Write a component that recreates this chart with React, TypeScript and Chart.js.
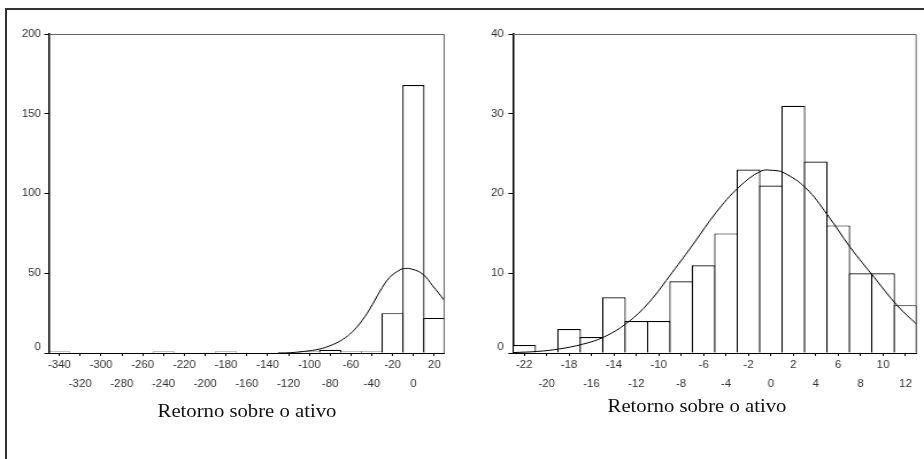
import React, { useEffect, useRef } from 'react';
import { Chart, registerables } from 'chart.js';

Chart.register(...registerables);

// ---------- data ----------
const LEFT_BINS = [-340, -320, -300, -280, -260, -240, -220, -200, -180, -160, -140, -120, -100, -80, -60, -40, -20, 0, 20];
const LEFT_COUNTS = [1, 0, 0, 0, 0, 1, 0, 0, 1, 0, 0, 0, 1, 2, 1, 1, 25, 168, 22];
const LEFT_Y_TICKS = [0, 50, 100, 150, 200];
const LEFT_CURVE_X = [-130, -118, -100, -90, -80, -70, -61, -52, -42, -32, -23, -13, -8, -1, 9, 18.5, 30];
const LEFT_CURVE_Y = [0, 0.2, 1.4, 2.5, 4.6, 7.7, 11.9, 18.1, 27.5, 38.9, 47.3, 52.1, 53, 52.5, 49.4, 42.1, 32.7];

const RIGHT_BINS = [-22, -20, -18, -16, -14, -12, -10, -8, -6, -4, -2, 0, 2, 4, 6, 8, 10, 12];
const RIGHT_COUNTS = [1, 0, 3, 2, 7, 4, 4, 9, 11, 15, 23, 21, 31, 24, 16, 10, 10, 6];
const RIGHT_Y_TICKS = [0, 10, 20, 30, 40];
const RIGHT_CURVE_X = [-23, -20.8, -18.9, -16.8, -14.9, -12.8, -10.9, -8.8, -6.85, -4.9, -2.85, -0.9, 0.15, 1.15, 3.1, 5, 7.1, 9.2, 11.3, 13];
const RIGHT_CURVE_Y = [0.05, 0.2, 0.5, 1.1, 2.0, 3.8, 6.3, 10.1, 13.8, 17.6, 20.8, 22.8, 22.9, 22.6, 20.7, 17.4, 13.2, 9.5, 5.9, 3.6];

const X_TITLE = 'Retorno sobre o ativo';

const SANS = "'Liberation Sans', Arial, sans-serif";
const SERIF = "'Liberation Serif', 'Times New Roman', serif";

// the original figure is slightly stretched horizontally
const K = 1.15;
const PANEL_W = 462;
const CANVAS_W = Math.round(PANEL_W / K);
const H = 459;

const plotFrame = {
  id: 'plotFrame',
  afterDraw(chart: any) {
    const { ctx, chartArea } = chart;
    const { left, right, top, bottom } = chartArea;
    ctx.save();
    ctx.strokeStyle = '#666';
    ctx.lineWidth = 1;
    const t = Math.round(top) + 0.5;
    ctx.beginPath();
    ctx.moveTo(left, t);
    ctx.lineTo(right - 0.5, t);
    ctx.lineTo(right - 0.5, bottom);
    ctx.stroke();
    ctx.restore();
  },
};

type Spec = {
  bins: number[];
  counts: number[];
  yTicks: number[];
  curveX: number[];
  curveY: number[];
  xMin: number;
  xMax: number;
  plotLeft: number;
  plotRight: number;
  yTickLen: number;
  yPad: number;
};

function buildConfig(s: Spec): any {
  const left = s.plotLeft / K;
  const right = s.plotRight / K;
  const binPx = ((right - left) * (s.bins[1] - s.bins[0])) / (s.xMax - s.xMin);
  const barPct = (binPx + 1.2) / binPx;
  return {
    type: 'bar',
    data: {
      datasets: [
        {
          type: 'line',
          data: s.curveX.map((x, i) => ({ x, y: s.curveY[i] })),
          borderColor: '#000',
          borderWidth: 1,
          pointRadius: 0,
          tension: 0.4,
          fill: false,
          order: 1,
        },
        {
          type: 'bar',
          data: s.bins.map((x, i) => ({ x, y: s.counts[i] })),
          backgroundColor: '#fff',
          borderColor: '#000',
          borderWidth: 1.2,
          borderSkipped: 'start',
          barPercentage: barPct,
          categoryPercentage: 1,
          order: 2,
        },
      ],
    },
    options: {
      responsive: false,
      animation: false,
      devicePixelRatio: 1,
      layout: { padding: { left: 0, top: 34, right: CANVAS_W - right, bottom: 0 } },
      plugins: { legend: { display: false }, tooltip: { enabled: false }, title: { display: false } },
      scales: {
        x: {
          type: 'linear',
          min: s.xMin,
          max: s.xMax,
          offset: false,
          afterBuildTicks: (sc: any) => {
            sc.ticks = s.bins.map((v) => ({ value: v }));
          },
          afterFit: (sc: any) => {
            sc.height = 106;
          },
          ticks: {
            autoSkip: false,
            maxRotation: 0,
            minRotation: 0,
            padding: 0,
            color: '#333',
            font: { family: SANS, size: 10, lineHeight: 1.9 },
            callback: (v: number, i: number) => (i % 2 === 0 ? String(v) : ['', String(v)]),
          },
          grid: { drawOnChartArea: false, drawTicks: true, tickLength: 3, color: '#000', offset: false },
          border: { display: true, color: '#000', width: 1 },
        },
        y: {
          min: s.yTicks[0],
          max: s.yTicks[s.yTicks.length - 1],
          afterBuildTicks: (sc: any) => {
            sc.ticks = s.yTicks.map((v) => ({ value: v }));
          },
          afterFit: (sc: any) => {
            sc.width = left;
          },
          ticks: {
            padding: s.yPad,
            color: '#333',
            font: { family: SANS, size: 10 },
            callback: (v: number) => (v === 0 ? ['0', ''] : String(v)),
          },
          grid: { drawOnChartArea: false, drawTicks: true, tickLength: s.yTickLen, color: '#000' },
          border: { display: true, color: '#000', width: 1.5 },
        },
      },
    },
    plugins: [plotFrame],
  };
}

function Histogram({ spec, left }: { spec: Spec; left: number }) {
  const ref = useRef<HTMLCanvasElement | null>(null);
  useEffect(() => {
    if (!ref.current) return;
    const chart = new Chart(ref.current, buildConfig(spec));
    return () => chart.destroy();
  }, [spec]);
  return (
    <canvas
      ref={ref}
      width={CANVAS_W}
      height={H}
      style={{ position: 'absolute', left, top: 0, width: PANEL_W, height: H }}
    />
  );
}

const LEFT_SPEC: Spec = {
  bins: LEFT_BINS,
  counts: LEFT_COUNTS,
  yTicks: LEFT_Y_TICKS,
  curveX: LEFT_CURVE_X,
  curveY: LEFT_CURVE_Y,
  xMin: -350,
  xMax: 30,
  plotLeft: 49,
  plotRight: 445,
  yTickLen: 4,
  yPad: 3,
};

const RIGHT_SPEC: Spec = {
  bins: RIGHT_BINS,
  counts: RIGHT_COUNTS,
  yTicks: RIGHT_Y_TICKS,
  curveX: RIGHT_CURVE_X,
  curveY: RIGHT_CURVE_Y,
  xMin: -23,
  xMax: 13,
  plotLeft: 51,
  plotRight: 455,
  yTickLen: 4,
  yPad: 4,
};

export default function App() {
  const titleStyle: React.CSSProperties = {
    position: 'absolute',
    width: 240,
    textAlign: 'center',
    fontFamily: SERIF,
    fontSize: 18,
    lineHeight: '20px',
    color: '#111',
    whiteSpace: 'nowrap',
    transform: `scaleX(${K})`,
    transformOrigin: '50% 50%',
  };
  return (
    <div
      style={{
        position: 'fixed',
        left: 0,
        top: 0,
        width: 924,
        height: 459,
        overflow: 'hidden',
        background: '#fff',
      }}
    >
      <div
        style={{
          position: 'absolute',
          left: 5,
          top: 8,
          width: 1000,
          height: 1000,
          borderLeft: '2px solid #333',
          borderTop: '2px solid #333',
        }}
      />
      <Histogram spec={LEFT_SPEC} left={0} />
      <Histogram spec={RIGHT_SPEC} left={462} />
      <div style={{ ...titleStyle, left: 247 - 120, top: 401 }}>{X_TITLE}</div>
      <div style={{ ...titleStyle, left: 697 - 120, top: 396 }}>{X_TITLE}</div>
    </div>
  );
}
